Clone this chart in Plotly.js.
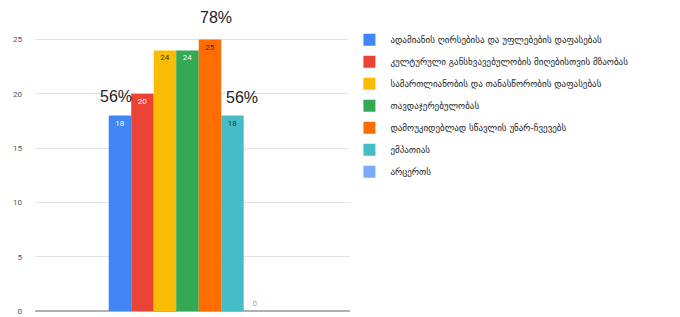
<!DOCTYPE html>
<html>
<head>
<meta charset="utf-8">
<script src="https://cdn.plot.ly/plotly-3.0.1.min.js"></script>
<style>html,body{margin:0;padding:0;background:#fff;}#chart{width:680px;height:317px;}</style>
</head>
<body>
<div id="chart"></div>
<script>
const seriesNames = [
  "ადამიანის ღირსებისა და უფლებების დაფასებას",
  "კულტურული განსხვავებულობის მიღებისთვის მზაობას",
  "სამართლიანობის და თანასწორობის დაფასებას",
  "თავდაჯერებულობას",
  "დამოუკიდებლად სწავლის უნარ-ჩვევებს",
  "ემპათიას",
  "არცერთს"
];
const seriesValues = [18, 20, 24, 24, 25, 18, 0];
const category = [""];
const percentLabels = ["56%", "78%", "56%"];

const colors = ["#4285F4", "#EA4335", "#FBBC04", "#34A853", "#FF6D01", "#46BDC6", "#7BAAF7"];
const textColors = ["#ffffff", "#ffffff", "#333333", "#ffffff", "#333333", "#333333", "#7BAAF7"];

const traces = seriesNames.map((name, i) => ({
  type: "bar",
  name: name,
  x: category,
  y: [seriesValues[i]],
  text: [String(seriesValues[i])],
  textposition: seriesValues[i] > 0 ? "inside" : "outside",
  insidetextanchor: "end",
  textangle: 0,
  textfont: {size: 8, color: textColors[i], family: "Roboto, Arial, sans-serif"},
  marker: {color: colors[i], line: {width: 0}},
  legendgroup: "g" + i,
  cliponaxis: false,
  hoverinfo: "none"
}));

const layout = {
  width: 680,
  height: 317,
  margin: {l: 35, r: 330, t: 7, b: 6},
  paper_bgcolor: "#ffffff",
  plot_bgcolor: "#ffffff",
  barmode: "group",
  bargap: 0.5,
  bargroupgap: 0,
  showlegend: true,
  legend: {
    x: 0.995, xanchor: "left", y: 0.94, yanchor: "top",
    font: {family: "DejaVu Sans, sans-serif", size: 9, color: "#222"},
    tracegroupgap: 3,
    itemwidth: 32
  },
  xaxis: {
    range: [-0.484, 0.516],
    showticklabels: false,
    showgrid: false,
    zeroline: false,
    showline: false,
    ticks: ""
  },
  yaxis: {
    range: [0, 28],
    tickvals: [0, 5, 10, 15, 20, 25],
    tickfont: {size: 8, color: "#555", family: "Roboto, Arial, sans-serif"},
    gridcolor: "#e3e3e3",
    gridwidth: 1,
    zeroline: true,
    zerolinecolor: "#b0b0b0",
    zerolinewidth: 2,
    ticklen: 0,
    ticklabelstandoff: 12,
    showline: false
  },
  annotations: [
    {xref: "x", yref: "y", x: 0, y: seriesValues[0], text: percentLabels[0], showarrow: false,
     xshift: -71, yshift: 19, font: {size: 16, color: "#222", family: "Arial, sans-serif"}},
    {xref: "x", yref: "y", x: 0, y: seriesValues[4], text: percentLabels[1], showarrow: false,
     xshift: 29, yshift: 22, font: {size: 16, color: "#222", family: "Arial, sans-serif"}},
    {xref: "x", yref: "y", x: 0, y: seriesValues[5], text: percentLabels[2], showarrow: false,
     xshift: 55, yshift: 18, font: {size: 16, color: "#222", family: "Arial, sans-serif"}}
  ]
};

Plotly.newPlot("chart", traces, layout, {displayModeBar: false, staticPlot: true});
</script>
</body>
</html>
